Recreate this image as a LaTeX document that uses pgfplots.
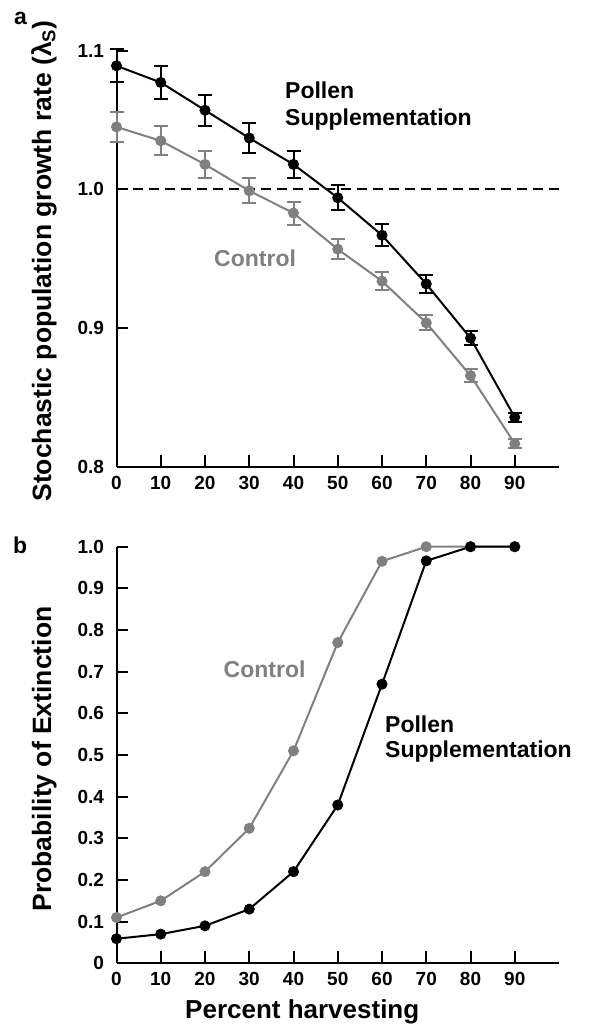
\documentclass[border=0pt]{standalone}
\usepackage{fontspec}
\setmainfont{Liberation Sans}
\usepackage{pgfplots}
\pgfplotsset{compat=1.18}
\definecolor{ctrl}{RGB}{128,128,128}

\pgfplotstableread{
x y e
0 1.089 0.012
10 1.077 0.012
20 1.057 0.011
30 1.037 0.0107
40 1.018 0.0097
50 0.994 0.009
60 0.967 0.008
70 0.932 0.0064
80 0.893 0.0052
90 0.836 0.0032
}\pollenA
\pgfplotstableread{
x y e
0 1.045 0.011
10 1.035 0.0104
20 1.018 0.0096
30 0.999 0.0089
40 0.983 0.0083
50 0.957 0.0074
60 0.934 0.0066
70 0.904 0.0054
80 0.866 0.0044
90 0.817 0.0032
}\controlA
\pgfplotstableread{
x y
0 0.059
10 0.070
20 0.090
30 0.130
40 0.220
50 0.380
60 0.670
70 0.966
80 1.000
90 1.000
}\pollenB
\pgfplotstableread{
x y
0 0.110
10 0.150
20 0.220
30 0.324
40 0.510
50 0.770
60 0.965
70 1.000
80 1.000
90 1.000
}\controlB

\begin{document}
\begin{tikzpicture}[x=1pt,y=1pt]
\path[use as bounding box] (0,0) rectangle (589,-1025);
\pgfplotsset{
  common/.style={
    scale only axis, width=442.5pt,
    axis lines=left, axis line style={line width=2pt, -},
    tick align=inside, major tick length=12pt,
    tick style={line width=2pt, black},
    xmin=0, xmax=100, xtick={0,10,...,90},
    /pgf/number format/assume math mode=true,
    ticklabel style={font=\fontsize{19}{21}\selectfont\bfseries},
    xticklabel style={yshift=-5pt},
    yticklabel style={xshift=-9pt},
    clip=false,
    anchor=south west,
  },
}
% ---------- panel a ----------
\begin{axis}[common, at={(116.5pt,-467.3pt)}, height=416.8pt,
  ymin=0.8, ymax=1.1, ytick={0.8,0.9,1.0,1.1},
  yticklabel style={/pgf/number format/.cd, fixed, fixed zerofill, precision=1}]
\addplot[black, line width=2pt, dash pattern=on 10pt off 6pt] coordinates {(0,1) (100,1)};
\addplot[ctrl, line width=2pt, mark=*, mark size=5pt, mark options={solid, fill=ctrl, line width=1pt},
  error bars/.cd, y dir=both, y explicit, error mark=|,
  error bar style={line width=2pt, ctrl},
  error mark options={ctrl, line width=2pt, mark size=7pt}]
  table[x=x, y=y, y error=e] {\controlA};
\addplot[black, line width=2pt, mark=*, mark size=5pt, mark options={solid, fill=black, line width=1pt},
  error bars/.cd, y dir=both, y explicit, error mark=|,
  error bar style={line width=2pt, black},
  error mark options={black, line width=2pt, mark size=7pt}]
  table[x=x, y=y, y error=e] {\pollenA};
\end{axis}
% ---------- panel b ----------
\begin{axis}[common, at={(116.5pt,-963.3pt)}, height=416.6pt,
  ymin=0, ymax=1.0, ytick={0,0.1,0.2,0.3,0.4,0.5,0.6,0.7,0.8,0.9,1.0},
  yticklabels={0,0.1,0.2,0.3,0.4,0.5,0.6,0.7,0.8,0.9,1.0}]
\addplot[ctrl, line width=2pt, mark=*, mark size=5pt, mark options={solid, fill=ctrl, line width=1pt}]
  table[x=x, y=y] {\controlB};
\addplot[black, line width=2pt, mark=*, mark size=5pt, mark options={solid, fill=black, line width=1pt}]
  table[x=x, y=y] {\pollenB};
\end{axis}
% ---------- texts ----------
\begin{scope}[every node/.style={inner sep=0pt}]
\node[anchor=base west, font=\fontsize{23}{25}\selectfont\bfseries] at (14,-25) {a};
\node[anchor=base west, font=\fontsize{23}{25}\selectfont\bfseries] at (13,-553) {b};
\node[anchor=base, rotate=90, font=\fontsize{26.5}{28}\selectfont\bfseries] at (51,-261)
  {Stochastic population growth rate (λ\textsubscript{S})};
\node[anchor=base, rotate=90, font=\fontsize{26.5}{28}\selectfont\bfseries] at (51,-759)
  {Probability of Extinction};
\node[anchor=base west, font=\fontsize{26}{28}\selectfont\bfseries] at (185,-1018)
  {Percent harvesting};
\node[anchor=base west, font=\fontsize{23}{25}\selectfont\bfseries] at (285,-98) {Pollen};
\node[anchor=base west, font=\fontsize{23}{25}\selectfont\bfseries] at (285,-125) {Supplementation};
\node[anchor=base west, text=ctrl, font=\fontsize{23}{25}\selectfont\bfseries] at (214,-266) {Control};
\node[anchor=base west, font=\fontsize{23}{25}\selectfont\bfseries] at (385,-732) {Pollen};
\node[anchor=base west, font=\fontsize{23}{25}\selectfont\bfseries] at (385,-757) {Supplementation};
\node[anchor=base west, text=ctrl, font=\fontsize{23}{25}\selectfont\bfseries] at (223.5,-677) {Control};
\end{scope}
\end{tikzpicture}
\end{document}
